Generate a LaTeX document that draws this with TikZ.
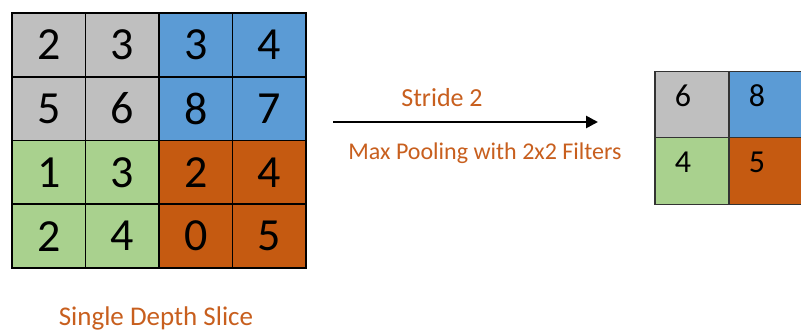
\documentclass[tikz,border=0pt]{standalone}
\usepackage{fontspec}
\setmainfont{Carlito}
\usetikzlibrary{arrows.meta}
\definecolor{cgrey}{RGB}{191,191,191}
\definecolor{cblue}{RGB}{91,155,213}
\definecolor{cgreen}{RGB}{169,209,142}
\definecolor{corange}{RGB}{197,90,17}
\definecolor{ctext}{RGB}{200,95,30}
\begin{document}
\begin{tikzpicture}[x=1pt,y=-1pt,
  bigcell/.style={draw=black,line width=1.6pt,minimum width=73.5pt,minimum height=64pt,inner sep=0pt,font=\fontsize{46}{46}\selectfont},
  smallcell/.style={draw=black!80,line width=1.2pt,minimum width=74pt,minimum height=66.5pt,inner sep=0pt},
  smalldigit/.style={font=\fontsize{32}{32}\selectfont,inner sep=0pt},
  lbl/.style={text=ctext,font=\fontsize{26}{26}\selectfont,inner sep=0pt}]
\useasboundingbox (0,0) rectangle (801,331);
\fill[white] (0,0) rectangle (801,331);
% left grid
\foreach \r/\vals in {0/{2,3,3,4},1/{5,6,8,7},2/{1,3,2,4},3/{2,4,0,5}}{
  \foreach \v [count=\c from 0] in \vals {
    \pgfmathsetmacro{\cx}{12+73.5*\c+36.75}
    \pgfmathsetmacro{\cy}{13+63.75*\r+31.875}
    \ifnum\r<2 \ifnum\c<2 \def\fc{cgrey}\else\def\fc{cblue}\fi
    \else \ifnum\c<2 \def\fc{cgreen}\else\def\fc{corange}\fi\fi
    \node[bigcell,fill=\fc,minimum height=63.75pt] (L\r\c) at (\cx,\cy) {\v};
  }
}
% right grid
\node[smallcell,fill=cgrey] (R00) at (692,104.5) {};
\node[smallcell,fill=cblue] (R01) at (766,104.5) {};
\node[smallcell,fill=cgreen] (R10) at (692,171) {};
\node[smallcell,fill=corange] (R11) at (766,171) {};
\node[smalldigit] at (683,96) {6};
\node[smalldigit] at (757,96) {8};
\node[smalldigit] at (683,162) {4};
\node[smalldigit] at (757,162) {5};
% arrow
\coordinate (A1) at (333,122);
\coordinate (A2) at (598,122);
\draw[line width=2.6pt,-{Triangle[length=12pt,width=12pt]}] (A1) -- (A2);
\node[lbl] (stride) at (442,98) {Stride 2};
\node[lbl,font=\fontsize{24}{24}\selectfont] (mp) at (485,153) {Max Pooling with 2x2 Filters};
\node[lbl,font=\fontsize{27}{27}\selectfont] (sds) at (156,318) {Single Depth Slice};
\end{tikzpicture}
\end{document}
